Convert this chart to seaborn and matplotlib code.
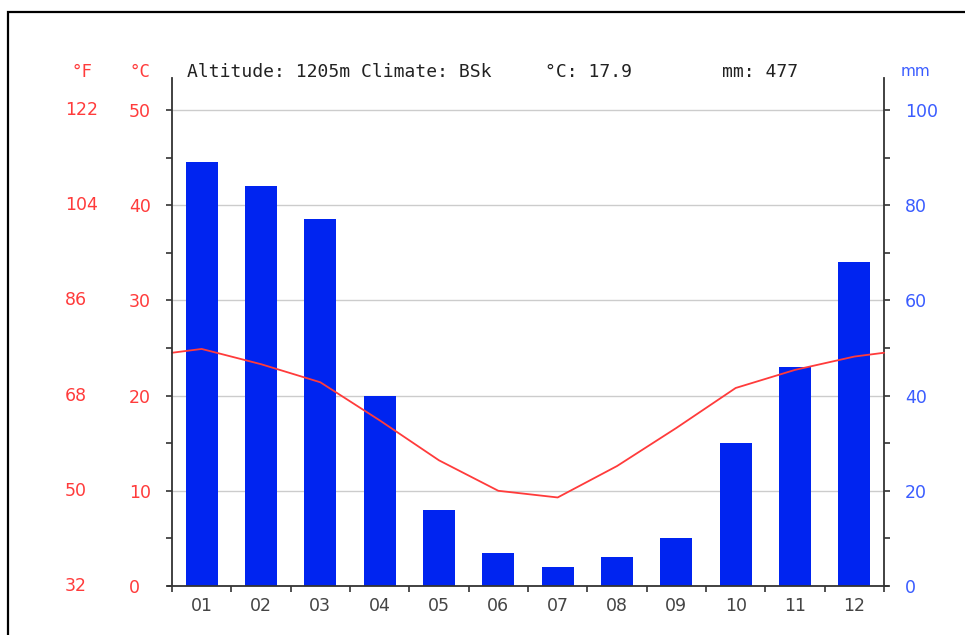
import numpy as np
import pandas as pd
import matplotlib
matplotlib.use("Agg")
import matplotlib.pyplot as plt
import matplotlib.transforms as mtransforms
from matplotlib.patches import Rectangle
from matplotlib.ticker import FixedLocator
import seaborn as sns

months = ["01", "02", "03", "04", "05", "06", "07", "08", "09", "10", "11", "12"]
temp_c = [24.9, 23.3, 21.4, 17.4, 13.2, 10.0, 9.3, 12.6, 16.6, 20.8, 22.7, 24.1]
precip_mm = [89, 84, 77, 40, 16, 7, 4, 6, 10, 30, 46, 68]
c_ticks = [0, 10, 20, 30, 40, 50]
mm_ticks = [0, 20, 40, 60, 80, 100]
header_left = "Altitude: 1205m Climate: BSk"
header_mean = "°C: 17.9"
header_sum = "mm: 477"

RED = "#ff3b3b"
BLUE = "#0024f0"
BLUE_TXT = "#3a5cff"
SPINE = "#333333"

sns.set_style("white")
plt.rcParams["font.family"] = ["DejaVu Sans"]

fig = plt.figure(figsize=(9.65, 6.35), dpi=100)
W, H = 965, 635
px_unit = (884 - 172) / 12.0
left_px = 172 - 0.07 * px_unit
right_px = 884 + 0.07 * px_unit
ax = fig.add_axes([left_px / W, 1 - 586 / H, (right_px - left_px) / W, (586 - 78) / H])
ax2 = ax.twinx()

# frame
fig.add_artist(Rectangle((8 / W, -0.1), 1.2, 1 - 12 / H + 0.1, transform=fig.transFigure,
                         fill=False, lw=1.6, edgecolor="black"))

# bars on the precipitation axis
df = pd.DataFrame({"month": months, "mm": precip_mm})
sns.barplot(data=df, x="month", y="mm", ax=ax2, color=BLUE, saturation=1,
            width=0.54, linewidth=0, zorder=3)

# temperature line with wraparound ends
edge = (temp_c[0] + temp_c[-1]) / 2
pos = [-0.5] + list(range(12)) + [11.5]
tvals = [edge] + temp_c + [edge]
sns.lineplot(x=pos, y=tvals, ax=ax, color=RED, lw=1.3, sort=False)

ymax_c = (586 - 78) / (476 / 50)
ax.set_ylim(0, ymax_c)
ax2.set_ylim(0, ymax_c * 2)
ax.set_xlim(-0.57, 11.57)

# gridlines behind bars
ax2.hlines([m for m in mm_ticks if m > 0], -0.5, 11.5, color="#cccccc", lw=1, zorder=1)

ax.set_zorder(ax2.get_zorder() + 1)
ax.patch.set_visible(False)

for a in (ax, ax2):
    a.set_xlabel("")
    a.set_ylabel("")
    a.spines["top"].set_visible(False)
    for s in a.spines.values():
        s.set_color(SPINE)
        s.set_linewidth(1.3)
ax.spines["right"].set_visible(False)
ax2.spines["left"].set_visible(False)
ax2.spines["bottom"].set_visible(False)
ax.spines["left"].set_position(("data", -0.5))
ax2.spines["right"].set_position(("data", 11.5))

# x ticks: boundaries (major), labels at centers (minor)
ax.xaxis.set_major_locator(FixedLocator(np.arange(-0.5, 12, 1)))
ax.set_xticklabels([""] * 13)
ax.set_xticks(range(12), labels=months, minor=True)
ax.tick_params(axis="x", which="major", direction="out", length=4, width=1.2, color=SPINE, bottom=True)
ax.tick_params(axis="x", which="minor", length=0, pad=8, labelsize=12.5, labelcolor="#444444", bottom=True)

# left (°C) ticks
ax.set_yticks(c_ticks, labels=[str(c) for c in c_ticks])
ax.set_yticks(np.arange(5, 50, 10), minor=True)
ax.tick_params(axis="y", which="both", direction="out", length=4, width=1.2, color=SPINE, left=True)
ax.tick_params(axis="y", which="major", pad=27, labelsize=12.5, labelcolor=RED)
for lab in ax.get_yticklabels():
    lab.set_horizontalalignment("left")

# right (mm) ticks
ax2.set_yticks(mm_ticks, labels=[str(m) for m in mm_ticks])
ax2.set_yticks(np.arange(10, 100, 20), minor=True)
ax2.tick_params(axis="y", which="both", direction="out", length=4, width=1.2, color=SPINE, right=True)
ax2.tick_params(axis="y", which="major", pad=11, labelsize=12.5, labelcolor=BLUE_TXT)

# Fahrenheit labels
tr = mtransforms.blended_transform_factory(fig.transFigure, ax.transData)
for c in c_ticks:
    f = round(c * 9 / 5 + 32)
    ax.text(65 / W, c, str(f), transform=tr, ha="left", va="center", color=RED, fontsize=12.5)

yh = 1 - 72 / H
fig.text(82 / W, yh, "°F", ha="center", va="center", color=RED, fontsize=12.5, family="DejaVu Sans Mono")
fig.text(140 / W, yh, "°C", ha="center", va="center", color=RED, fontsize=12.5, family="DejaVu Sans Mono")
fig.text(915 / W, yh, "mm", ha="center", va="center", color=BLUE_TXT, fontsize=11)
mono = dict(ha="left", va="center", color="#222222", fontsize=13, family="DejaVu Sans Mono")
fig.text(187 / W, yh, header_left, **mono)
fig.text(545 / W, yh, header_mean, **mono)
fig.text(722 / W, yh, header_sum, **mono)

fig.savefig("out.png", dpi=100)
